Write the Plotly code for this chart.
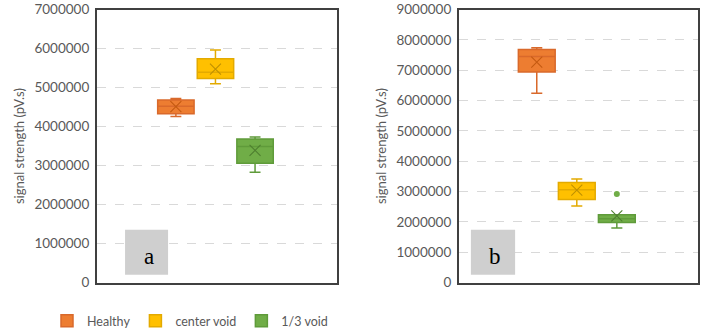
import plotly.graph_objects as go

# Series names and colours
groups = ["Healthy", "center void", "1/3 void"]
fills = ["#ED7D31", "#FFC000", "#70AD47"]
edges = ["#D9692B", "#E3AA00", "#5F9B3A"]
mean_marks = ["#C55A11", "#BF9000", "#4E7F2F"]

# Panel a: box statistics (pV.s)
a_low = [4260000, 5100000, 2830000]
a_q1 = [4330000, 5230000, 3060000]
a_med = [4520000, 5390000, 3490000]
a_q3 = [4680000, 5740000, 3680000]
a_high = [4720000, 5960000, 3730000]
a_mean = [4510000, 5470000, 3390000]
a_out = [[], [], []]

# Panel b: box statistics (pV.s)
b_low = [6240000, 2530000, 1800000]
b_q1 = [6940000, 2740000, 1980000]
b_med = [7450000, 3060000, 2110000]
b_q3 = [7680000, 3300000, 2240000]
b_high = [7740000, 3420000, 2240000]
b_mean = [7270000, 3050000, 2200000]
b_out = [[], [], [2920000]]

a_ticks = list(range(0, 7000001, 1000000))
b_ticks = list(range(0, 9000001, 1000000))

W, H = 707, 331
FONT = "Lato"
GREY = "#595959"

fig = go.Figure()


def add_panel(xa, ya, low, q1, med, q3, high, mean, outs, legend):
    for i, name in enumerate(groups):
        if outs[i]:
            # sample points beyond the fences are shown as outlier dots
            extra = dict(y=[outs[i]], boxpoints="outliers",
                         pointpos=0, jitter=0)
        else:
            extra = dict(boxpoints=False)
        fig.add_trace(go.Box(
            x=[name],
            lowerfence=[low[i]], q1=[q1[i]], median=[med[i]],
            q3=[q3[i]], upperfence=[high[i]],
            name=name, legendgroup=name, showlegend=legend,
            fillcolor=fills[i],
            line=dict(color=edges[i], width=1.5),
            whiskerwidth=0.3,
            marker=dict(color=fills[i], size=6),
            xaxis=xa, yaxis=ya, **extra,
        ))
        fig.add_trace(go.Scatter(
            x=[name], y=[mean[i]], mode="markers",
            marker=dict(symbol="x-thin-open", size=11, color=mean_marks[i],
                        line=dict(color=mean_marks[i], width=1.1)),
            showlegend=False, hoverinfo="skip",
            xaxis=xa, yaxis=ya,
        ))


add_panel("x", "y", a_low, a_q1, a_med, a_q3, a_high, a_mean, a_out, True)
add_panel("x2", "y2", b_low, b_q1, b_med, b_q3, b_high, b_mean, b_out, False)

y_dom = [48.3 / H, 321.5 / H]
frame = dict(showline=True, mirror=True, linecolor="#404040", linewidth=1.5)

common_y = dict(
    dtick=1000000, tickformat="d", showgrid=True, gridcolor="#D9D9D9",
    griddash="dash", gridwidth=1, zeroline=False, ticks="",
    ticklabelstandoff=3, tickfont=dict(family=FONT, size=13.5, color=GREY),
    title=dict(text="signal strength (pV.s)",
               font=dict(family=FONT, size=13, color=GREY), standoff=7),
    domain=y_dom, **frame,
)
common_x = dict(type="category", showticklabels=False, showgrid=False,
                zeroline=False, ticks="", **frame)

fig.update_layout(
    width=W, height=H,
    margin=dict(l=0, r=0, t=0, b=0, autoexpand=False),
    paper_bgcolor="white", plot_bgcolor="white",
    boxmode="overlay", boxgap=0.08, boxgroupgap=0,
    xaxis=dict(domain=[96.7 / W, 337 / W], range=[-2.0, 4.07], **common_x),
    xaxis2=dict(domain=[458.7 / W, 697.7 / W], range=[-1.95, 4.02],
                anchor="y2", **common_x),
    yaxis=dict(range=[0, 7000000], tickvals=a_ticks, anchor="x", **common_y),
    yaxis2=dict(range=[0, 9000000], tickvals=b_ticks, anchor="x2", **common_y),
    legend=dict(orientation="h", x=47 / W, xanchor="left",
                y=10 / H, yanchor="middle",
                font=dict(family=FONT, size=12.5, color=GREY),
                bgcolor="rgba(0,0,0,0)"),
    showlegend=True,
)

# Panel letters in grey tags
tags = [("x domain", "y domain", "a", 0.118, 0.297),
        ("x2 domain", "y2 domain", "b", 0.051, 0.236)]
for xr, yr, letter, x0, x1 in tags:
    fig.add_shape(type="rect", xref=xr, yref=yr, x0=x0, x1=x1,
                  y0=0.029, y1=0.194, fillcolor="#CFCFCF",
                  line=dict(width=0), layer="above")
    fig.add_annotation(
        xref=xr, yref=yr, x=(x0 + x1) / 2 + 0.01, y=0.097,
        xanchor="center", yanchor="middle",
        text=letter, showarrow=False,
        font=dict(family="Liberation Serif", size=23, color="black"),
    )

fig.write_html("out.html")
